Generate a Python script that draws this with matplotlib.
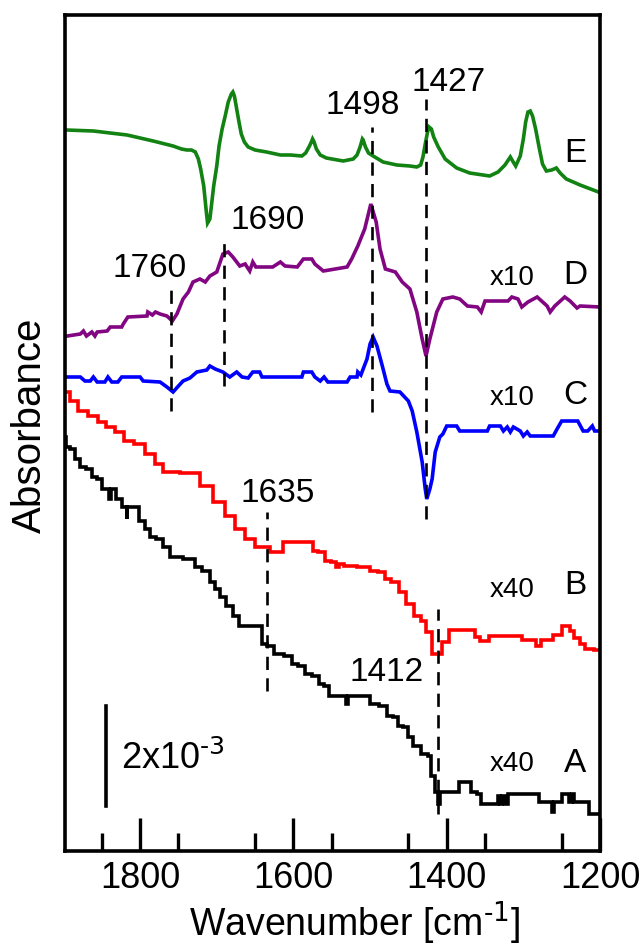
import matplotlib
matplotlib.use("Agg")
import matplotlib.pyplot as plt
import numpy as np

plt.rcParams['font.family'] = ['Liberation Sans', 'DejaVu Sans']
plt.rcParams['mathtext.default'] = 'regular'
plt.rcParams['lines.scale_dashes'] = False

# ---------------- data (wavenumber, offset absorbance in arbitrary units) -------------
wn_E = [1897, 1861, 1817, 1783, 1757, 1746, 1739, 1733, 1728, 1724, 1721, 1717, 1714, 1712, 1709,
        1707, 1704, 1700, 1697, 1693, 1689, 1685, 1681, 1679, 1677, 1674, 1671, 1668, 1664, 1659,
        1650, 1635, 1617, 1604, 1589, 1584, 1579, 1576, 1575, 1573, 1570, 1565, 1557, 1535, 1522,
        1517, 1513, 1510, 1509, 1506, 1502, 1496, 1483, 1465, 1448, 1439, 1434, 1431, 1428, 1425,
        1423, 1420, 1417, 1411, 1402, 1387, 1370, 1344, 1333, 1324, 1317, 1314, 1310, 1304, 1300,
        1297, 1294, 1291, 1288, 1284, 1279, 1275, 1270, 1263, 1257, 1252, 1244, 1226, 1202, 1200]
y_E = [721, 720, 716, 710, 705, 702, 701, 701, 699, 692, 682, 665, 642, 628, 632,
       645, 665, 685, 705, 722, 735, 749, 757, 759, 755, 742, 729, 717, 709, 704,
       701, 699, 696, 696, 695, 698, 705, 710, 712, 709, 702, 696, 693, 690, 692,
       696, 704, 712, 711, 704, 698, 695, 689, 686, 685, 684, 686, 694, 707, 719,
       724, 722, 714, 704, 692, 683, 678, 675, 679, 686, 694, 690, 685, 695, 712,
       729, 739, 740, 735, 722, 702, 687, 680, 681, 683, 678, 672, 666, 659, 658]

wn_D = [1895, 1878, 1874, 1870, 1863, 1859, 1856, 1843, 1839, 1824, 1822, 1816, 1791, 1790, 1784,
        1780, 1774, 1765, 1758, 1752, 1744, 1737, 1731, 1722, 1715, 1709, 1700, 1692, 1685, 1679,
        1670, 1663, 1657, 1653, 1649, 1627, 1617, 1611, 1595, 1587, 1576, 1572, 1561, 1530, 1524,
        1516, 1507, 1499, 1492, 1487, 1480, 1467, 1458, 1448, 1439, 1432, 1427, 1422, 1413, 1405,
        1392, 1383, 1373, 1360, 1355, 1350, 1320, 1315, 1307, 1302, 1294, 1282, 1269, 1265, 1259,
        1246, 1239, 1230, 1226, 1200]
y_D = [515, 517, 520, 515, 519, 515, 519, 520, 524, 524, 527, 534, 535, 539, 536,
       539, 537, 535, 530, 537, 552, 559, 569, 572, 569, 575, 579, 597, 599, 594,
       585, 587, 580, 589, 584, 584, 589, 585, 584, 592, 592, 587, 580, 584, 592,
       605, 622, 647, 629, 602, 582, 579, 569, 562, 539, 512, 495, 512, 539, 552,
       554, 552, 545, 544, 539, 550, 550, 554, 552, 544, 549, 554, 545, 539, 545,
       554, 550, 543, 545, 544]

wn_C = [1895, 1878, 1872, 1865, 1861, 1856, 1846, 1842, 1837, 1829, 1824, 1800, 1796, 1774, 1765,
        1757, 1750, 1744, 1735, 1726, 1713, 1709, 1702, 1692, 1683, 1674, 1667, 1659, 1653, 1644,
        1641, 1589, 1587, 1576, 1572, 1565, 1560, 1555, 1530, 1526, 1517, 1516, 1512, 1504, 1500,
        1496, 1491, 1484, 1478, 1474, 1461, 1450, 1445, 1439, 1432, 1428, 1426, 1422, 1419, 1415,
        1409, 1405, 1400, 1387, 1383, 1347, 1344, 1330, 1326, 1321, 1317, 1313, 1304, 1300, 1295,
        1291, 1261, 1256, 1250, 1229, 1222, 1216, 1210, 1207, 1200]
y_C = [474, 474, 470, 470, 474, 469, 469, 474, 469, 469, 474, 474, 470, 469, 464,
       459, 465, 470, 473, 479, 481, 485, 482, 479, 474, 479, 474, 473, 479, 479,
       474, 474, 479, 479, 474, 470, 474, 469, 469, 474, 474, 479, 476, 492, 507,
       514, 505, 485, 467, 460, 459, 450, 440, 419, 389, 362, 352, 362, 372, 399,
       414, 417, 425, 425, 420, 420, 425, 425, 420, 424, 419, 424, 420, 415, 419,
       415, 415, 422, 430, 430, 420, 420, 425, 420, 420]

wn_B = [1897, 1887, 1874, 1861, 1850, 1839, 1826, 1817, 1800, 1787, 1774, 1765, 1731, 1713, 1696,
        1683, 1670, 1657, 1644, 1633, 1628, 1617, 1611, 1578, 1572, 1563, 1555, 1546, 1542, 1538,
        1530, 1503, 1496, 1484, 1478, 1467, 1458, 1448, 1437, 1431, 1424, 1415, 1411, 1402, 1392,
        1367, 1360, 1354, 1346, 1343, 1304, 1300, 1285, 1281, 1274, 1263, 1259, 1252, 1248, 1242,
        1237, 1230, 1222, 1216, 1200]
y_B = [459, 450, 440, 435, 429, 424, 419, 410, 407, 397, 387, 379, 378, 365, 349,
       335, 322, 312, 304, 304, 299, 299, 309, 309, 300, 299, 290, 289, 284, 287,
       285, 284, 280, 279, 272, 269, 259, 247, 235, 230, 219, 197, 197, 209, 221,
       221, 214, 210, 210, 215, 215, 211, 211, 205, 211, 211, 216, 216, 225, 225,
       220, 213, 207, 202, 201]

wn_A = [1898, 1895, 1887, 1882, 1876, 1865, 1861, 1852, 1848, 1842, 1839, 1837, 1826, 1822, 1818,
        1817, 1816, 1806, 1797, 1790, 1784, 1774, 1765, 1757, 1731, 1726, 1713, 1705, 1700, 1692,
        1683, 1674, 1667, 1643, 1640, 1630, 1621, 1604, 1600, 1587, 1582, 1569, 1565, 1555, 1552,
        1533, 1530, 1527, 1503, 1497, 1480, 1476, 1465, 1461, 1452, 1448, 1439, 1428, 1422, 1418,
        1413, 1411, 1406, 1385, 1383, 1370, 1366, 1356, 1355, 1334, 1333, 1329, 1326, 1321, 1320,
        1281, 1278, 1263, 1261, 1259, 1250, 1248, 1242, 1239, 1235, 1233, 1217, 1213, 1200]
y_A = [414, 404, 402, 392, 384, 382, 374, 372, 362, 362, 352, 362, 352, 344, 344,
       332, 344, 344, 330, 322, 314, 312, 304, 294, 292, 284, 280, 269, 262, 254,
       245, 235, 225, 225, 207, 205, 197, 195, 187, 185, 177, 175, 167, 165, 155,
       155, 147, 155, 155, 147, 145, 135, 134, 125, 124, 114, 105, 97, 95, 75,
       59, 47, 59, 59, 69, 69, 59, 57, 47, 47, 55, 47, 55, 47, 57,
       57, 49, 49, 39, 49, 49, 57, 57, 49, 57, 49, 49, 37, 37]

series = [
    ("E", wn_E, y_E, "#128212", ""),
    ("D", wn_D, y_D, "#820582", "x10"),
    ("C", wn_C, y_C, "#0000ff", "x10"),
    ("B", wn_B, y_B, "#ff0000", "x40"),
    ("A", wn_A, y_A, "#000000", "x40"),
]
stepped = {"A", "B"}

# marked bands: wavenumber, dashed line bottom/top, label position (x, baseline)
band_wn = [1760, 1690, 1498, 1427, 1635, 1412]
band_lo = [440, 465, 439, 332, 160, 37]
band_hi = [564, 615, 724, 752, 339, 242]
band_lab_x = [1788, 1634, 1510, 1397, 1621, 1478]
band_lab_y = [574, 622, 737, 760, 349, 170]

curve_lab_y = [689, 567, 447, 257, 79]
scale_lab_y = [566, 566, 446, 254, 80]

scale_bar = (145, 45)   # 2x10^-3 absorbance
# ---------------------------------------------------------------------------------------

fig = plt.figure(figsize=(6.39, 9.48), dpi=100)
ax = fig.add_axes([65 / 639, 97 / 948, 535 / 639, 836 / 948])

for (name, wn, y, col, fac) in series:
    ax.plot(wn, y, color=col, lw=2.6, solid_joinstyle='miter',
            drawstyle='steps-mid' if name in stepped else 'default')

for w, lo, hi in zip(band_wn, band_lo, band_hi):
    ax.plot([w, w], [lo, hi], color='black', lw=1.9, linestyle=(0, (9.5, 6)))

for w, lx, ly in zip(band_wn, band_lab_x, band_lab_y):
    ax.text(lx, ly, str(w), fontsize=24, ha='center', va='baseline')

for (name, wn, y, col, fac), ly, fy in zip(series, curve_lab_y, scale_lab_y):
    ax.text(1232, ly, name, fontsize=24, ha='center', va='baseline')
    if fac:
        ax.text(1314, fy, fac, fontsize=20, ha='center', va='baseline')

ax.plot([1845, 1845], list(scale_bar), color='black', lw=2.6)
ax.text(1825, 82, '2x10$^{\\text{-3}}$', fontsize=26, ha='left', va='baseline')

ax.set_xlim(1898, 1200)
ax.set_ylim(0, 836)
ax.set_xticks([1800, 1600, 1400, 1200])
ax.set_xticks(np.arange(1250, 1900, 100), minor=True)
ax.set_yticks([])
ax.tick_params(axis='x', which='major', direction='in', length=24, width=2.4,
               labelsize=26, pad=7, top=False)
ax.tick_params(axis='x', which='minor', direction='in', length=13, width=2.4, top=False)
for s in ax.spines.values():
    s.set_linewidth(2.6)

fig.text(355 / 639, (948 - 936) / 948, 'Wavenumber [cm$^{\\text{-1}}$]', fontsize=27,
         ha='center', va='baseline')
fig.text(30 / 639, (948 - 425) / 948, 'Absorbance', fontsize=29, rotation=90,
         ha='center', va='center')

fig.savefig('out.png', dpi=100)
